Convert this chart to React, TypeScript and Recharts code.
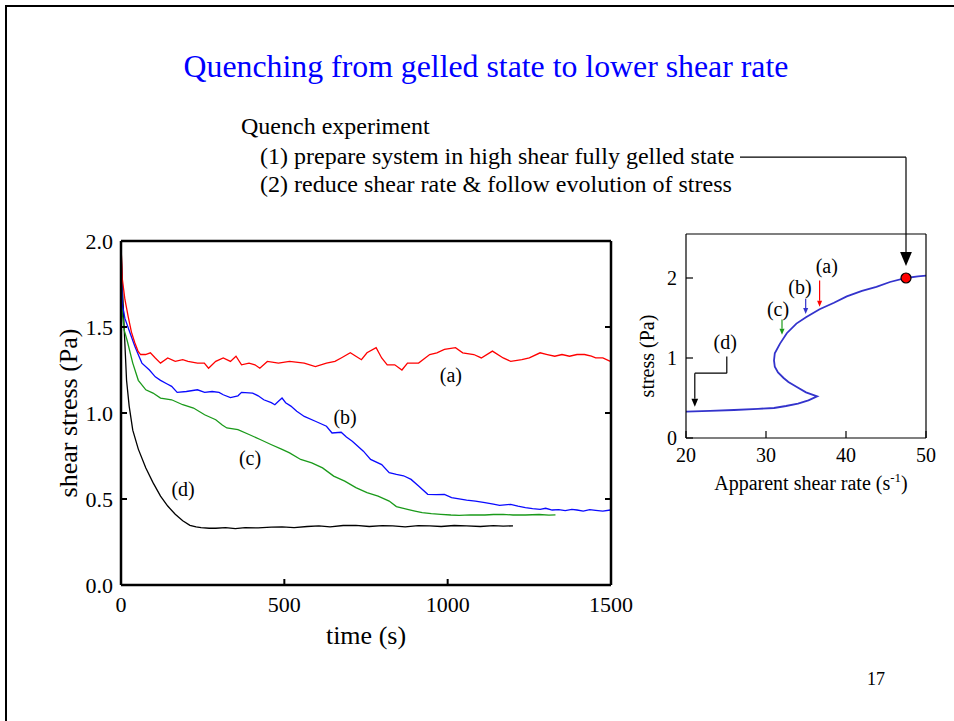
import { LineChart, Line, XAxis, YAxis, ReferenceLine, ReferenceDot } from "recharts";

const SERIF = '"Liberation Serif", "Times New Roman", serif';

// main chart: time (s) vs shear stress (Pa)
const timeA = [0, 4, 12, 22, 32, 42, 52, 60, 75, 90, 105, 121, 143, 166, 189, 205, 234, 255, 268, 290, 313, 335, 352, 369, 392, 410, 425, 448, 482, 516, 561, 595, 629, 655, 674, 702, 719, 736, 753, 781, 798, 815, 838, 860, 877, 911, 945, 967, 990, 1024, 1046, 1080, 1103, 1137, 1170, 1193, 1227, 1250, 1283, 1305, 1328, 1350, 1373, 1396, 1419, 1440, 1453, 1475, 1498];
const stressA = [1.98, 1.78, 1.66, 1.56, 1.47, 1.41, 1.36, 1.34, 1.34, 1.35, 1.32, 1.29, 1.32, 1.3, 1.31, 1.3, 1.29, 1.29, 1.26, 1.3, 1.32, 1.3, 1.33, 1.28, 1.29, 1.28, 1.26, 1.3, 1.29, 1.3, 1.29, 1.27, 1.29, 1.3, 1.32, 1.35, 1.33, 1.31, 1.35, 1.38, 1.32, 1.28, 1.28, 1.25, 1.29, 1.29, 1.34, 1.35, 1.37, 1.38, 1.35, 1.34, 1.32, 1.36, 1.32, 1.3, 1.31, 1.32, 1.35, 1.34, 1.33, 1.34, 1.33, 1.34, 1.34, 1.33, 1.32, 1.32, 1.3];

const timeB = [0, 4, 12, 25, 42, 55, 64, 87, 105, 121, 140, 155, 172, 200, 234, 256, 279, 300, 313, 335, 358, 369, 403, 420, 437, 460, 471, 482, 493, 504, 520, 538, 561, 595, 629, 646, 674, 690, 708, 742, 764, 798, 821, 843, 865, 888, 911, 939, 965, 990, 1012, 1058, 1085, 1114, 1140, 1159, 1193, 1215, 1238, 1260, 1283, 1300, 1320, 1340, 1360, 1380, 1396, 1415, 1435, 1453, 1475, 1498];
const stressB = [1.98, 1.63, 1.55, 1.48, 1.39, 1.33, 1.29, 1.25, 1.21, 1.19, 1.17, 1.155, 1.12, 1.125, 1.135, 1.12, 1.125, 1.12, 1.106, 1.09, 1.1, 1.12, 1.116, 1.1, 1.077, 1.06, 1.048, 1.068, 1.087, 1.06, 1.04, 1.01, 0.98, 0.952, 0.923, 0.884, 0.888, 0.86, 0.836, 0.778, 0.73, 0.7, 0.653, 0.643, 0.635, 0.614, 0.575, 0.527, 0.525, 0.527, 0.508, 0.494, 0.488, 0.479, 0.47, 0.463, 0.469, 0.458, 0.45, 0.444, 0.44, 0.446, 0.436, 0.438, 0.432, 0.44, 0.436, 0.43, 0.438, 0.434, 0.43, 0.436];

const timeC = [0, 4, 10, 19, 36, 53, 76, 98, 121, 155, 189, 222, 256, 290, 310, 324, 358, 392, 426, 459, 493, 516, 550, 584, 617, 651, 685, 719, 753, 787, 821, 843, 877, 900, 922, 950, 979, 1010, 1035, 1070, 1114, 1140, 1170, 1200, 1238, 1280, 1310, 1330];
const stressC = [1.98, 1.58, 1.48, 1.42, 1.29, 1.19, 1.135, 1.116, 1.087, 1.077, 1.048, 1.029, 0.99, 0.961, 0.93, 0.913, 0.903, 0.875, 0.846, 0.817, 0.788, 0.768, 0.73, 0.71, 0.681, 0.633, 0.604, 0.566, 0.537, 0.517, 0.488, 0.456, 0.44, 0.43, 0.421, 0.415, 0.411, 0.407, 0.405, 0.408, 0.407, 0.41, 0.411, 0.407, 0.407, 0.41, 0.406, 0.408];

const timeD = [0, 5, 10, 17, 25, 36, 53, 76, 98, 121, 143, 166, 189, 211, 230, 245, 270, 290, 320, 350, 380, 420, 460, 493, 530, 570, 606, 640, 680, 719, 760, 800, 832, 870, 910, 945, 980, 1020, 1058, 1100, 1140, 1170, 1200];
const stressD = [1.98, 1.7, 1.48, 1.19, 1.04, 0.9, 0.79, 0.68, 0.595, 0.517, 0.459, 0.411, 0.373, 0.347, 0.338, 0.334, 0.33, 0.33, 0.334, 0.328, 0.334, 0.332, 0.336, 0.338, 0.334, 0.34, 0.344, 0.338, 0.346, 0.347, 0.34, 0.345, 0.344, 0.338, 0.345, 0.344, 0.34, 0.346, 0.344, 0.34, 0.345, 0.342, 0.344];

const timeTicks = [0, 500, 1000, 1500];
const stressTicks = [0, 0.5, 1, 1.5, 2];

// curve labels (a)-(d) on the main chart: [time, stress]
const mainLabels = ["(a)", "(b)", "(c)", "(d)"];
const mainLabelPos = [[1010, 1.22], [686, 0.98], [395, 0.74], [190, 0.56]];

// inset: flow curve, stress vs apparent shear rate
const rate = [20, 23, 26, 29, 31, 32.5, 34, 35.3, 36.4, 35, 33.8, 32.8, 32.2, 31.5, 31.1, 31.0, 31.1, 31.75, 32.6, 33.8, 35, 36.7, 38.5, 40.1, 42, 43.8, 45.5, 47.5, 49, 50];
const flowStress = [0.33, 0.34, 0.35, 0.365, 0.375, 0.4, 0.43, 0.47, 0.52, 0.57, 0.64, 0.7, 0.75, 0.82, 0.89, 0.97, 1.06, 1.18, 1.31, 1.43, 1.51, 1.61, 1.69, 1.77, 1.84, 1.89, 1.95, 2.0, 2.02, 2.03];
const rateTicks = [20, 30, 40, 50];
const flowTicks = [0, 1, 2];
const startPoint = [47.5, 2.0];

// quench arrows in the inset: x, y from, y to
const quenchNames = ["(a)", "(b)", "(c)"];
const quenchColors = ["#ff0000", "#3333cc", "#1a9a1a"];
const quenchArrows = [[36.7, 1.97, 1.64], [34.96, 1.74, 1.55], [32.0, 1.48, 1.29]];
const quenchLabelPos = [[37.6, 2.15], [34.25, 1.89], [31.5, 1.62]];
const dLabelPos = [24.9, 1.2];
const dPath = [[25.1, 1.02], [25.1, 0.81], [21.1, 0.81], [21.1, 0.39]];
const leaderPath = [[26.75, 3.51], [47.5, 3.51], [47.5, 2.15]];

const toPoints = (xs: number[], ys: number[], kx: string, ky: string) =>
  xs.map((x, i) => ({ [kx]: x, [ky]: ys[i] }));

const seriesA = toPoints(timeA, stressA, "t", "s");
const seriesB = toPoints(timeB, stressB, "t", "s");
const seriesC = toPoints(timeC, stressC, "t", "s");
const seriesD = toPoints(timeD, stressD, "t", "s");
const flowCurve = toPoints(rate, flowStress, "rate", "stress");

const EmptyTick = () => <g />;

function arrowShape(color: string, head: number, width: number, withHead = true) {
  return (p: any) => {
    const { x1, y1, x2, y2 } = p;
    if (!withHead) return <line x1={x1} y1={y1} x2={x2} y2={y2} stroke={color} strokeWidth={width} />;
    const dx = x2 - x1;
    const dy = y2 - y1;
    const len = Math.hypot(dx, dy) || 1;
    const ux = dx / len;
    const uy = dy / len;
    const bx = x2 - ux * head;
    const by = y2 - uy * head;
    const hw = head * 0.42;
    return (
      <g>
        <line x1={x1} y1={y1} x2={bx} y2={by} stroke={color} strokeWidth={width} />
        <polygon
          points={`${x2},${y2} ${bx - uy * hw},${by + ux * hw} ${bx + uy * hw},${by - ux * hw}`}
          fill={color}
        />
      </g>
    );
  };
}

function MainChart() {
  const tickStyle = { fontSize: 22, fill: "#000", fontFamily: SERIF };
  const frame = { stroke: "#000", strokeWidth: 2.5 };
  const tickLn = { stroke: "#000", strokeWidth: 2 };
  return (
    <LineChart
      width={660}
      height={680}
      margin={{ top: 240, right: 48, bottom: 35, left: 61 }}
      style={{ fontFamily: SERIF }}
    >
      <XAxis
        type="number"
        dataKey="t"
        domain={[0, 1500]}
        ticks={timeTicks}
        interval={0}
        allowDataOverflow
        height={60}
        tickSize={-6}
        tickMargin={17}
        tick={tickStyle}
        axisLine={frame}
        tickLine={tickLn}
        label={{ value: "time (s)", position: "insideBottom", offset: 1, fontSize: 26, fill: "#000" }}
      />
      <XAxis
        xAxisId="top"
        orientation="top"
        type="number"
        domain={[0, 1500]}
        ticks={timeTicks}
        interval={0}
        allowDataOverflow
        height={1}
        tickSize={-6}
        tick={EmptyTick}
        axisLine={frame}
        tickLine={tickLn}
      />
      <YAxis
        type="number"
        domain={[0, 2]}
        ticks={stressTicks}
        interval={0}
        allowDataOverflow
        width={60}
        tickSize={-6}
        tickMargin={14}
        tickFormatter={(v: number) => v.toFixed(1)}
        tick={tickStyle}
        axisLine={frame}
        tickLine={tickLn}
        label={{
          value: "shear stress (Pa)",
          angle: -90,
          position: "insideLeft",
          offset: 7,
          fontSize: 26,
          fill: "#000",
          style: { textAnchor: "middle" },
        }}
      />
      <YAxis
        yAxisId="right"
        orientation="right"
        type="number"
        domain={[0, 2]}
        ticks={stressTicks}
        interval={0}
        allowDataOverflow
        width={1}
        tickSize={-6}
        tick={EmptyTick}
        axisLine={frame}
        tickLine={tickLn}
      />
      <Line data={seriesD} dataKey="s" type="linear" stroke="#000000" strokeWidth={1.3} dot={false} isAnimationActive={false} />
      <Line data={seriesC} dataKey="s" type="linear" stroke="#1a9a1a" strokeWidth={1.3} dot={false} isAnimationActive={false} />
      <Line data={seriesB} dataKey="s" type="linear" stroke="#0a0aff" strokeWidth={1.3} dot={false} isAnimationActive={false} />
      <Line data={seriesA} dataKey="s" type="linear" stroke="#ff0000" strokeWidth={1.3} dot={false} isAnimationActive={false} />
      {mainLabels.map((name, i) => (
        <ReferenceDot
          key={name}
          x={mainLabelPos[i][0]}
          y={mainLabelPos[i][1]}
          r={0}
          fill="none"
          stroke="none"
          label={{ value: name, position: "center", fontSize: 20, fill: "#000" }}
        />
      ))}
    </LineChart>
  );
}

function InsetChart() {
  const tickStyle = { fontSize: 20, fill: "#000", fontFamily: SERIF };
  const frame = { stroke: "#000", strokeWidth: 1.2 };
  return (
    <LineChart
      width={354}
      height={380}
      margin={{ top: 93, right: 27, bottom: 32, left: 46 }}
      style={{ fontFamily: SERIF }}
    >
      <XAxis
        type="number"
        dataKey="rate"
        domain={[20, 50]}
        ticks={rateTicks}
        interval={0}
        allowDataOverflow
        height={50}
        tickSize={-7}
        tickMargin={17}
        tick={tickStyle}
        axisLine={frame}
        tickLine={frame}
        label={{
          content: ({ viewBox }: any) => (
            <text x={viewBox.x + viewBox.width / 2 + 5} y={viewBox.y + 52} textAnchor="middle" fontSize={20} fill="#000">
              Apparent shear rate (s
              <tspan dy={-8} fontSize={13}>-1</tspan>
              <tspan dy={8}>)</tspan>
            </text>
          ),
        }}
      />
      <XAxis xAxisId="top" orientation="top" type="number" domain={[20, 50]} allowDataOverflow height={1} tick={EmptyTick} tickLine={false} axisLine={frame} />
      <YAxis
        type="number"
        domain={[0, 2.55]}
        ticks={flowTicks}
        interval={0}
        allowDataOverflow
        width={40}
        tickSize={-7}
        tickMargin={16}
        tick={tickStyle}
        axisLine={frame}
        tickLine={frame}
        label={{
          content: ({ viewBox }: any) => {
            const cx = viewBox.x + 1;
            const cy = viewBox.y + viewBox.height / 2 + 20;
            return (
              <text x={cx} y={cy} dy="0.35em" textAnchor="middle" fontSize={20} fill="#000" transform={`rotate(-90, ${cx}, ${cy})`}>
                stress (Pa)
              </text>
            );
          },
        }}
      />
      <YAxis yAxisId="right" orientation="right" type="number" domain={[0, 2.55]} allowDataOverflow width={1} tick={EmptyTick} tickLine={false} axisLine={frame} />
      <Line data={flowCurve} dataKey="stress" type="linear" stroke="#3333cc" strokeWidth={1.8} dot={false} isAnimationActive={false} />

      {/* leader from "(1) prepare system..." down to the starting point */}
      <ReferenceLine
        segment={[{ x: leaderPath[0][0], y: leaderPath[0][1] }, { x: leaderPath[1][0], y: leaderPath[1][1] }]}
        ifOverflow="visible"
        shape={arrowShape("#000", 0, 1.2, false)}
      />
      <ReferenceLine
        segment={[{ x: leaderPath[1][0], y: leaderPath[1][1] }, { x: leaderPath[2][0], y: leaderPath[2][1] }]}
        ifOverflow="visible"
        shape={arrowShape("#000", 14, 1.2)}
      />
      <ReferenceDot x={startPoint[0]} y={startPoint[1]} r={5} fill="#ff0000" stroke="#000" strokeWidth={1.2} />

      {quenchArrows.map((a, i) => (
        <ReferenceLine
          key={quenchNames[i]}
          segment={[{ x: a[0], y: a[1] }, { x: a[0], y: a[2] }]}
          shape={arrowShape(quenchColors[i], 6, 1.2)}
        />
      ))}
      {quenchNames.map((name, i) => (
        <ReferenceDot
          key={"l" + name}
          x={quenchLabelPos[i][0]}
          y={quenchLabelPos[i][1]}
          r={0}
          fill="none"
          stroke="none"
          label={{ value: name, position: "center", fontSize: 20, fill: "#000" }}
        />
      ))}
      {dPath.slice(1).map((p, i) => (
        <ReferenceLine
          key={"d" + i}
          segment={[{ x: dPath[i][0], y: dPath[i][1] }, { x: p[0], y: p[1] }]}
          shape={arrowShape("#000", 8, 1.2, i === dPath.length - 2)}
        />
      ))}
      <ReferenceDot
        x={dLabelPos[0]}
        y={dLabelPos[1]}
        r={0}
        fill="none"
        stroke="none"
        label={{ value: "(d)", position: "center", fontSize: 20, fill: "#000" }}
      />
    </LineChart>
  );
}

export default function App() {
  return (
    <div
      style={{
        position: "absolute",
        left: 0,
        top: 0,
        width: 954,
        height: 721,
        overflow: "hidden",
        background: "#fff",
        fontFamily: SERIF,
        color: "#000",
      }}
    >
      {/* slide border */}
      <div style={{ position: "absolute", left: 5, top: 5, width: 1000, height: 800, borderTop: "2px solid #000", borderLeft: "2px solid #000" }} />

      <div style={{ position: "absolute", left: 0, width: 972, top: 48, textAlign: "center", fontSize: 31.8, color: "#0000ff", lineHeight: "38px" }}>
        Quenching from gelled state to lower shear rate
      </div>
      <div style={{ position: "absolute", left: 241, top: 112, fontSize: 24, lineHeight: "29px", whiteSpace: "nowrap" }}>
        Quench experiment
      </div>
      <div style={{ position: "absolute", left: 260, top: 142, fontSize: 24, lineHeight: "29px", whiteSpace: "nowrap" }}>
        (1) prepare system in high shear fully gelled state
      </div>
      <div style={{ position: "absolute", left: 260, top: 170, fontSize: 24, lineHeight: "29px", whiteSpace: "nowrap" }}>
        (2) reduce shear rate &amp; follow evolution of stress
      </div>

      <div style={{ position: "absolute", left: 0, top: 0 }}>
        <MainChart />
      </div>
      <div style={{ position: "absolute", left: 600, top: 140 }}>
        <InsetChart />
      </div>

      <div style={{ position: "absolute", left: 867, top: 669, fontSize: 18, lineHeight: "20px" }}>17</div>
    </div>
  );
}
